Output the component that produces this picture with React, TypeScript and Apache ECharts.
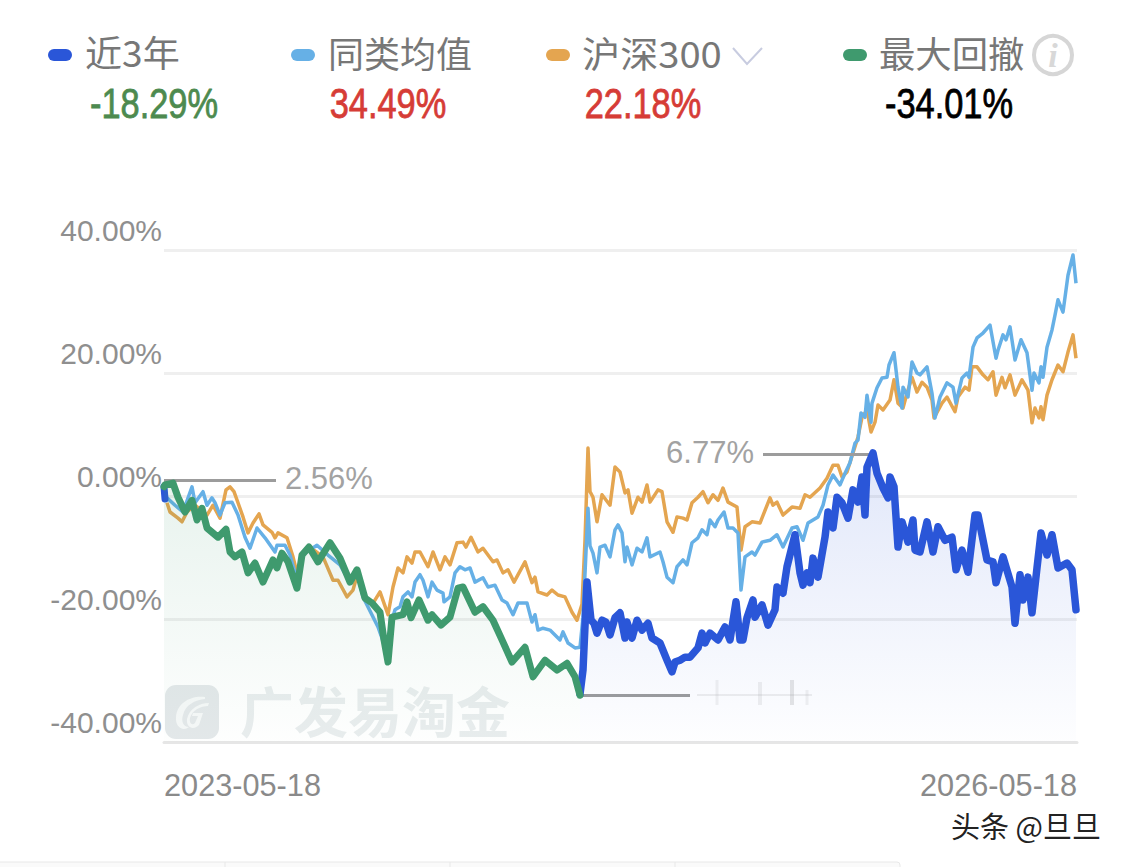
import React, { useEffect, useRef } from "react";
import * as echarts from "echarts";

const legendNames = ["近3年", "同类均值", "沪深300", "最大回撤"];
const legendValues = ["-18.29%", "34.49%", "22.18%", "-34.01%"];
const xTickValues = [0, 913];
const xTickLabels = ["2023-05-18", "2026-05-18"];
const yTicks = [-40, -20, 0, 20, 40];

const fundStart = [[0, 1.5], [1, -0.5]];
const fundDrawdown = [[0,1.5],[1,1.8],[9,2.1],[14,-0.2],[21,-2.6],[28,-0.7],[33,-3.9],[38,-2.0],[43,-5.2],[54,-6.7],[62,-5.4],[66,-9.1],[71,-9.9],[78,-9.1],[84,-12.5],[91,-10.9],[99,-14.0],[109,-10.4],[113,-11.7],[118,-9.3],[124,-10.7],[133,-15.0],[138,-9.6],[145,-8.3],[154,-10.7],[166,-7.6],[176,-10.1],[186,-14.0],[193,-12.0],[201,-16.6],[208,-17.4],[216,-18.9],[220,-23.4],[224,-27.0],[228,-19.7],[239,-19.3],[243,-17.2],[247,-19.8],[255,-16.9],[264,-20.2],[268,-19.3],[277,-21.0],[286,-19.7],[294,-15.0],[299,-14.8],[311,-18.9],[319,-18.0],[329,-20.2],[338,-23.4],[348,-27.0],[361,-24.6],[369,-29.4],[381,-26.7],[393,-28.3],[403,-27.2],[411,-29.4],[416,-32.4]];
const fundLate = [[416,-32.2],[419,-28.3],[423,-14.0],[427,-20.2],[430,-20.7],[433,-22.3],[438,-20.2],[442,-20.5],[446,-22.6],[451,-19.8],[456,-19.0],[461,-23.1],[463,-20.5],[468,-23.1],[473,-20.2],[478,-21.8],[484,-20.7],[488,-23.1],[496,-23.9],[503,-26.7],[508,-28.6],[511,-27.0],[516,-26.7],[521,-26.2],[526,-26.2],[534,-24.7],[538,-22.3],[541,-23.9],[546,-22.3],[554,-23.4],[561,-21.3],[566,-23.4],[572,-17.2],[576,-23.4],[579,-23.4],[583,-19.8],[589,-16.9],[591,-19.7],[598,-17.7],[604,-21.0],[611,-18.5],[613,-14.8],[619,-15.8],[623,-11.5],[631,-6.3],[636,-12.5],[639,-14.5],[643,-12.5],[646,-14.1],[649,-10.1],[654,-13.2],[661,-6.7],[664,-2.6],[669,-5.2],[673,-0.2],[678,-1.1],[684,-3.6],[689,1.0],[694,-1.0],[698,3.1],[701,-3.1],[703,4.7],[709,7.0],[713,3.7],[719,1.3],[724,-0.3],[726,3.1],[730,1.5],[734,-8.3],[738,-4.2],[744,-7.5],[749,-3.9],[751,-8.8],[756,-9.1],[763,-4.2],[769,-9.1],[774,-5.0],[781,-7.2],[788,-6.7],[792,-12.0],[798,-8.8],[804,-12.4],[811,-3.1],[814,-3.1],[823,-10.4],[829,-10.7],[832,-14.1],[839,-9.9],[848,-14.8],[851,-20.7],[856,-12.8],[859,-16.9],[864,-13.2],[868,-19.0],[873,-11.7],[877,-6.0],[883,-9.6],[888,-6.3],[894,-11.7],[903,-10.9],[908,-12.0],[912,-18.5]];
const peerAverage = [[3,-0.3],[11,-1.5],[19,-2.6],[28,1.5],[31,-1.1],[39,0.7],[43,-1.5],[48,-0.3],[51,-1.1],[56,-3.1],[61,-1.1],[68,-1.0],[74,-3.1],[81,-6.7],[86,-8.5],[93,-5.2],[101,-6.8],[111,-9.1],[113,-8.0],[121,-8.0],[126,-9.6],[133,-13.7],[138,-9.6],[153,-8.0],[164,-9.6],[176,-11.2],[186,-14.1],[193,-12.4],[199,-16.4],[214,-21.3],[222,-25.0],[228,-20.2],[231,-18.5],[236,-18.0],[239,-16.4],[244,-15.6],[248,-16.4],[251,-14.0],[256,-12.8],[259,-13.7],[264,-16.4],[268,-14.0],[273,-15.3],[279,-15.8],[280,-17.2],[286,-16.4],[291,-12.5],[296,-11.5],[301,-12.0],[306,-11.7],[311,-14.0],[319,-13.3],[324,-14.8],[331,-14.5],[338,-16.9],[343,-17.4],[349,-19.3],[354,-17.4],[363,-17.4],[368,-20.5],[371,-19.3],[374,-21.8],[379,-21.5],[386,-21.8],[396,-23.4],[399,-22.1],[404,-23.9],[411,-24.7],[416,-24.6],[419,-19.7],[424,-2.0],[426,-8.1],[429,-9.3],[433,-12.5],[436,-8.3],[441,-8.0],[446,-9.9],[451,-5.5],[454,-4.7],[458,-6.0],[461,-10.7],[463,-8.3],[468,-11.2],[473,-8.5],[478,-9.1],[483,-6.8],[486,-9.9],[496,-9.1],[499,-10.7],[503,-13.2],[509,-14.1],[513,-11.5],[519,-10.4],[523,-11.2],[528,-7.6],[534,-6.8],[538,-5.5],[543,-6.3],[546,-3.9],[551,-5.0],[554,-3.9],[560,-2.6],[564,-5.2],[569,-5.2],[574,-6.0],[577,-15.3],[581,-9.9],[588,-9.1],[591,-9.6],[598,-7.5],[606,-7.2],[613,-6.3],[619,-8.3],[628,-5.2],[633,-5.0],[639,-7.2],[644,-4.4],[654,-3.4],[659,-1.5],[664,1.8],[669,3.4],[676,1.8],[681,3.7],[686,5.4],[691,8.6],[694,9.1],[697,13.5],[701,12.8],[703,16.4],[707,12.0],[708,15.1],[713,17.6],[718,19.2],[723,19.3],[725,21.3],[730,23.3],[734,17.7],[738,14.3],[739,17.7],[744,16.1],[748,21.8],[753,20.0],[756,19.7],[763,21.0],[768,16.7],[771,12.7],[776,16.1],[783,18.4],[789,17.7],[792,15.1],[798,19.2],[803,20.0],[805,19.3],[809,24.2],[813,25.7],[819,26.5],[826,27.8],[832,22.4],[834,23.7],[839,26.2],[842,25.4],[846,27.5],[851,22.1],[857,25.4],[863,23.3],[868,17.2],[870,20.0],[875,18.4],[877,21.0],[879,19.3],[883,24.2],[888,27.0],[891,29.4],[894,31.9],[899,29.9],[904,35.9],[909,39.2],[912,34.6]];
const csi300 = [[3,-1.1],[6,-2.6],[14,-3.6],[18,-4.2],[23,-2.6],[31,-1.5],[43,-3.1],[49,-1.5],[56,-3.6],[62,1.0],[66,1.5],[70,0.7],[74,-1.1],[79,-3.4],[84,-6.0],[89,-4.4],[95,-2.9],[99,-4.7],[108,-5.9],[111,-6.8],[114,-6.0],[123,-6.8],[129,-9.9],[133,-12.5],[138,-9.6],[146,-8.3],[159,-9.9],[169,-13.7],[174,-13.7],[183,-16.4],[189,-15.3],[194,-12.4],[199,-16.1],[208,-17.7],[216,-15.6],[224,-19.3],[229,-14.8],[234,-11.7],[239,-12.5],[243,-9.9],[248,-10.9],[251,-9.1],[256,-9.1],[264,-11.5],[269,-9.1],[276,-12.0],[281,-9.9],[286,-11.2],[293,-7.6],[299,-7.5],[302,-8.3],[307,-6.7],[314,-9.1],[319,-8.5],[329,-10.7],[333,-10.4],[339,-12.5],[344,-12.0],[350,-14.0],[361,-10.7],[368,-14.1],[371,-13.2],[374,-15.6],[383,-16.1],[388,-15.3],[394,-16.1],[401,-16.4],[408,-18.9],[413,-20.2],[418,-17.6],[421,-7.2],[424,7.8],[426,0.7],[429,-0.2],[433,-4.2],[438,0.2],[446,-1.5],[451,4.7],[456,3.9],[461,0.5],[464,1.0],[468,-2.8],[474,-0.2],[478,-1.0],[483,1.8],[486,-1.0],[494,1.0],[498,0.7],[503,-4.2],[509,-5.9],[513,-3.4],[519,-3.6],[523,-3.9],[528,-1.1],[534,-0.2],[539,0.7],[544,-1.1],[549,0.2],[554,-0.7],[559,1.3],[564,-1.0],[573,-1.8],[577,-8.8],[581,-5.0],[588,-4.2],[596,-4.4],[606,-0.3],[609,-1.5],[613,-1.0],[619,-3.1],[628,-1.8],[636,-2.0],[641,0.2],[646,-0.2],[656,1.3],[663,2.9],[669,5.0],[674,5.0],[678,3.1],[683,3.9],[689,7.0],[694,9.6],[698,12.8],[703,14.0],[707,10.4],[711,12.0],[714,14.8],[719,14.0],[726,15.6],[730,18.9],[734,15.1],[739,14.3],[743,16.7],[748,19.3],[753,16.9],[758,18.5],[763,17.7],[768,15.6],[770,12.7],[778,15.1],[783,16.1],[791,13.7],[794,16.1],[801,17.7],[805,17.2],[808,21.0],[813,21.0],[819,19.7],[824,18.9],[829,20.2],[832,16.4],[838,19.3],[841,17.6],[846,19.7],[851,16.4],[858,18.9],[864,17.2],[868,11.9],[871,14.3],[875,12.7],[877,14.5],[879,12.4],[883,16.4],[888,18.9],[894,21.3],[899,20.2],[904,23.4],[909,26.2],[912,22.4]];

const startLine = [[0, 2.56], [112, 2.56]];
const peakLine = [[711, 6.77], [599, 6.77]];
const troughLine = [[416, -32.4], [526, -32.4]];

const BLUE = "#2a56d8";
const SKY = "#66b0e6";
const ORANGE = "#e4a550";
const GREEN = "#3f9a6e";
const GREY = "#9c9c9c";
const CJK = '"Noto Sans CJK SC", "Noto Sans", sans-serif';
const LATIN = '"Liberation Sans", Arimo, sans-serif';

echarts.graphic.registerShape(
  "gfLogo",
  echarts.graphic.extendPath(
    "M40 12 C26 10 12 18 11 32 C10 42 18 47 24 42 C18 42 16 36 18 30 C20 20 30 15 40 14 Z M44 18 C34 18 24 24 22 34 C21 42 28 46 34 40 L38 28 L28 28 L27 31 L33 31 L30 38 C27 41 24 38 25 33 C27 25 36 21 43 21 Z",
    {}
  )
);

const text = (s: string, x: number, y: number, size: number, fill: string, family: string, align = "left", weight: any = "normal", scaleX = 1, stroke = 0) => ({
  type: "text",
  x,
  y,
  scaleX,
  z: 20,
  style: {
    text: s, fill, fontSize: size, fontFamily: family, fontWeight: weight, align, verticalAlign: "middle",
    ...(stroke ? { stroke: fill, lineWidth: stroke } : {}),
  },
});

const marker = (x: number, fill: string) => ({
  type: "rect",
  z: 20,
  shape: { x, y: 49, width: 24, height: 12, r: 6 },
  style: { fill },
});

const smudge = (x1: number, y1: number, x2: number, y2: number, stroke: string, lineWidth: number) => ({
  type: "line",
  z: 3,
  shape: { x1, y1, x2, y2 },
  style: { stroke, lineWidth },
});

const markLine = (pts: number[][], label?: string) => ({
  silent: true,
  symbol: "none",
  animation: false,
  lineStyle: { color: GREY, width: 3, type: "solid" },
  label: label
    ? { show: true, position: "end", formatter: label, fontSize: 31, fontFamily: LATIN, color: "#a2a2a2", distance: 9, offset: [0, -2] }
    : { show: false },
  data: [[{ coord: pts[0] }, { coord: pts[1] }]],
});

export default function App() {
  const ref = useRef<HTMLDivElement>(null);
  useEffect(() => {
    document.body.style.margin = "0";
    document.body.style.background = "#ffffff";
    const chart = echarts.init(ref.current!, undefined, { renderer: "svg" });
    const lineBase = { type: "line", showSymbol: false, symbol: "none", smooth: false, silent: true };
    chart.setOption({
      animation: false,
      backgroundColor: "#ffffff",
      grid: { left: 164, right: 48, top: 250, bottom: 125, containLabel: false },
      xAxis: {
        type: "value",
        min: 0,
        max: 913,
        axisLine: { show: true, onZero: false, lineStyle: { color: "#e6e6e6", width: 3 } },
        axisTick: { show: false },
        splitLine: { show: false },
        axisLabel: {
          customValues: xTickValues,
          formatter: (v: number) => xTickLabels[xTickValues.indexOf(v)] ?? "",
          margin: 28,
          fontSize: 30.7,
          fontFamily: LATIN,
          color: "#8a8a8a",
          alignMinLabel: "left",
          alignMaxLabel: "right",
        },
      },
      yAxis: {
        type: "value",
        min: yTicks[0],
        max: yTicks[yTicks.length - 1],
        interval: 20,
        axisLine: { show: false },
        axisTick: { show: false },
        splitLine: { show: true, lineStyle: { color: "#efefef", width: 3 } },
        axisLabel: {
          formatter: (v: number) => v.toFixed(2) + "%",
          margin: 2,
          fontSize: 30,
          lineHeight: 40,
          verticalAlign: "bottom",
          fontFamily: LATIN,
          color: "#8f8f8f",
        },
      },
      series: [
        { ...lineBase, name: "沪深300", z: 3, data: csi300, lineStyle: { color: ORANGE, width: 3.5, join: "round" } },
        { ...lineBase, name: "同类均值", z: 4, data: peerAverage, lineStyle: { color: SKY, width: 3.5, join: "round" } },
        {
          ...lineBase,
          name: "近3年",
          z: 5,
          data: fundLate,
          lineStyle: { color: BLUE, width: 7.5, join: "round", cap: "round" },
          areaStyle: {
            origin: "start",
            color: { type: "linear", x: 0, y: 0, x2: 0, y2: 1, colorStops: [
              { offset: 0, color: "rgba(42,86,216,0.2)" },
              { offset: 1, color: "rgba(42,86,216,0.01)" },
            ] },
          },
          markLine: markLine(peakLine, "6.77%"),
        },
        { ...lineBase, name: "近3年起点", z: 5, clip: false, data: fundStart, lineStyle: { color: BLUE, width: 7, cap: "round" } },
        {
          ...lineBase,
          name: "最大回撤",
          z: 6,
          data: fundDrawdown,
          lineStyle: { color: GREEN, width: 7, join: "round", cap: "round" },
          areaStyle: {
            origin: "start",
            color: { type: "linear", x: 0, y: 0, x2: 0, y2: 1, colorStops: [
              { offset: 0, color: "rgba(63,154,110,0.17)" },
              { offset: 1, color: "rgba(63,154,110,0.01)" },
            ] },
          },
          markLine: markLine(startLine, "2.56%"),
        },
        { ...lineBase, name: "回撤谷底", z: 7, data: [], markLine: markLine(troughLine) },
      ],
      graphic: [
        // watermark
        { type: "rect", z: 1, shape: { x: 165, y: 685, width: 54, height: 54, r: 11 }, style: { fill: "#e4e8ea" } },
        { type: "gfLogo", z: 1, x: 165, y: 685, style: { fill: "#f6f8f8" } },
        { ...text("广发易淘金", 240, 709, 54, "#e9edee", CJK, "left", "bold"), z: 1 },
        // blurred trough label
        smudge(697, 695, 812, 695, "rgba(170,170,170,0.2)", 2),
        smudge(717, 680, 717, 705, "rgba(180,180,180,0.18)", 3),
        smudge(760, 682, 760, 705, "rgba(180,180,180,0.22)", 4),
        smudge(792, 680, 792, 705, "rgba(160,160,160,0.28)", 4),
        smudge(807, 690, 807, 705, "rgba(180,180,180,0.18)", 3),
        // legend
        marker(48, BLUE),
        marker(291, SKY),
        marker(546, ORANGE),
        marker(843, GREEN),
        text(legendNames[0], 85, 52, 36, "#777777", CJK, "left", "normal", 1.03),
        text(legendNames[1], 328, 52, 36, "#777777", CJK),
        text(legendNames[2], 582, 52, 36, "#777777", CJK, "left", "normal", 1.06),
        text(legendNames[3], 879, 52, 36, "#777777", CJK, "left", "normal", 1.01),
        text(legendValues[0], 154, 103, 43, "#4d8a4f", LATIN, "center", "normal", 0.8, 0.8),
        text(legendValues[1], 388, 103, 43, "#d63c36", LATIN, "center", "normal", 0.8, 0.8),
        text(legendValues[2], 643, 103, 43, "#d63c36", LATIN, "center", "normal", 0.8, 0.8),
        text(legendValues[3], 949, 103, 43, "#000000", LATIN, "center", "normal", 0.8, 0.8),
        {
          type: "polyline",
          z: 20,
          shape: { points: [[733, 48], [747, 64], [762, 48]] },
          style: { stroke: "#c8cce0", lineWidth: 2, fill: "none" },
        },
        { type: "circle", z: 20, shape: { cx: 1053, cy: 55, r: 19 }, style: { fill: "#ffffff", stroke: "#d6d6d6", lineWidth: 4 } },
        {
          type: "text",
          x: 1053,
          y: 55,
          z: 21,
          style: { text: "i", fill: "#d8d8d8", fontSize: 34, fontFamily: '"Liberation Serif", serif', fontStyle: "italic", fontWeight: "bold", align: "center", verticalAlign: "middle" },
        },
        // site mark and clipped tab bar
        text("头条 @旦旦", 951, 825, 29, "#222222", CJK, "left", "normal", 1.0),
        { type: "rect", z: 1, shape: { x: -4, y: 862, width: 904, height: 12, r: 3 }, style: { fill: "#fafafa", stroke: "#e8e8e8", lineWidth: 1 } },
        smudge(225, 862, 225, 867, "#e8e8e8", 1),
        smudge(450, 862, 450, 867, "#e8e8e8", 1),
        smudge(675, 862, 675, 867, "#e8e8e8", 1),
      ],
    });
    return () => chart.dispose();
  }, []);
  return <div ref={ref} style={{ position: "fixed", left: 0, top: 0, width: 1125, height: 867, overflow: "hidden" }} />;
}
